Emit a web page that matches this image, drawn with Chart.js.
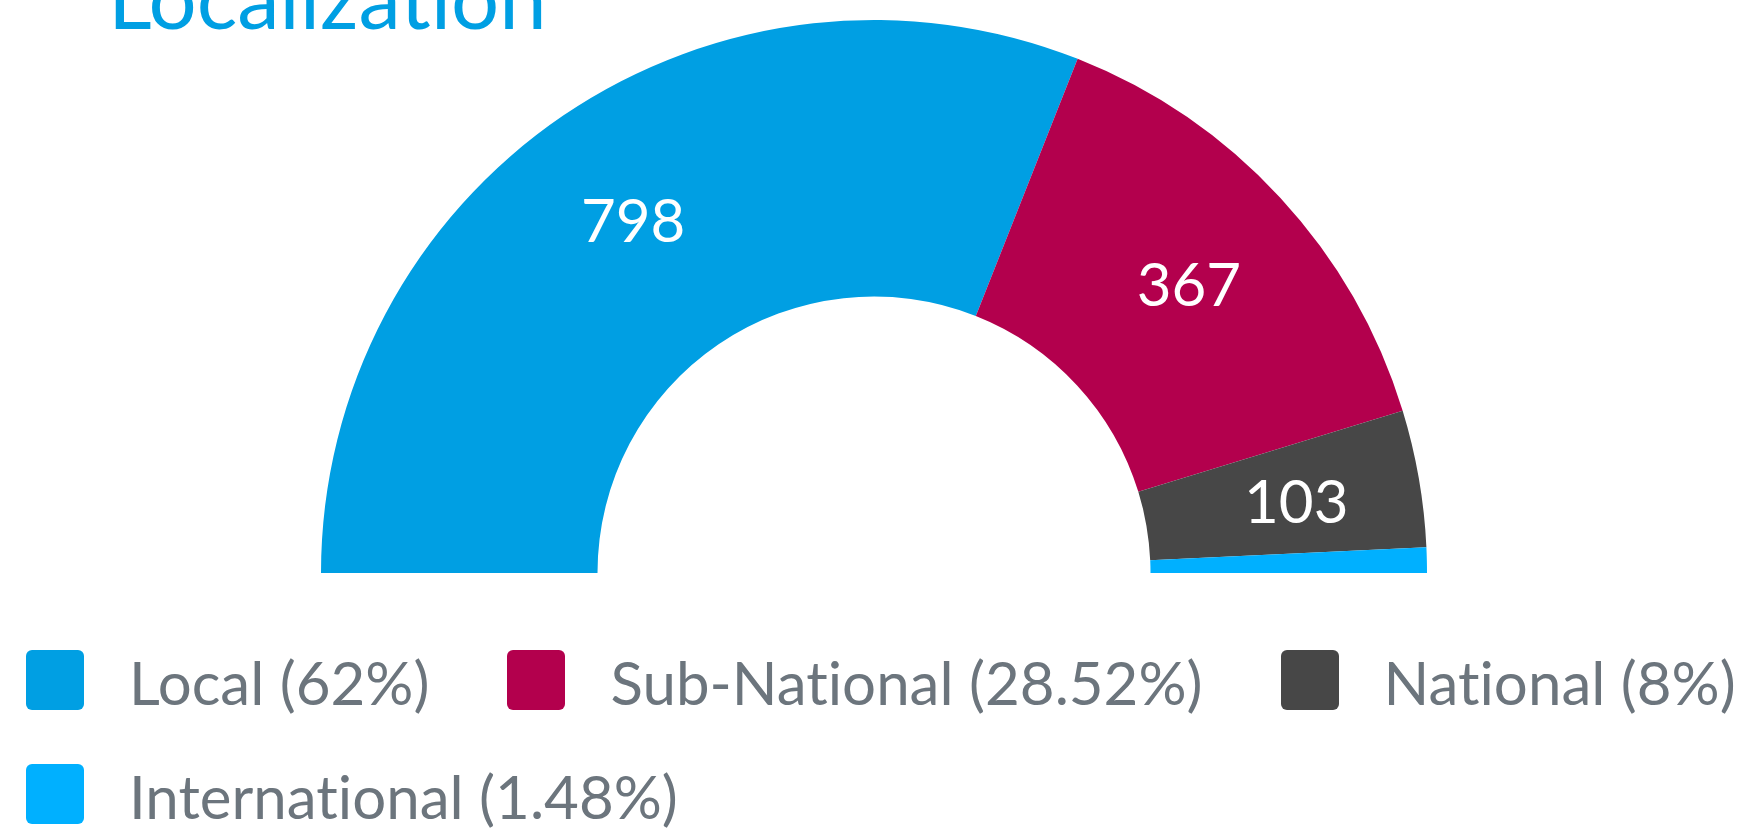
<!DOCTYPE html>
<html>
<head>
<meta charset="utf-8">
<script src="https://cdn.jsdelivr.net/npm/chart.js@4/dist/chart.umd.min.js"></script>
<style>
    html, body {
        margin: 0;
        padding: 0;
        background: #ffffff;
        overflow: hidden;
    }
    .page {
        position: relative;
        width: 1739px;
        height: 835px;
        overflow: hidden;
        font-family: Lato, "Open Sans", sans-serif;
    }
    .chart-title,
    .legend-text {
        font-variant-ligatures: none;
        font-feature-settings: "liga" 0, "clig" 0, "dlig" 0, "calt" 0;
        letter-spacing: 0.01px;
    }
    .chart-title {
        position: absolute;
        left: 108px;
        top: -46px;
        font-size: 85px;
        line-height: 1;
        color: #009fe3;
        white-space: nowrap;
    }
    .chart-box {
        position: absolute;
        left: 0;
        top: 0;
        width: 1739px;
        height: 835px;
    }
    .legend {
        position: absolute;
        left: 26px;
        top: 650px;
        width: 1760px;
        display: flex;
        flex-wrap: wrap;
        row-gap: 54px;
        column-gap: 78px;
    }
    .legend-item {
        display: flex;
        align-items: center;
        height: 60px;
        white-space: nowrap;
    }
    .legend-swatch {
        width: 58px;
        height: 60px;
        border-radius: 6px;
        margin-right: 45px;
    }
    .legend-text {
        font-size: 60px;
        line-height: 60px;
        color: #6c757d;
        position: relative;
        top: 2px;
    }
</style>
</head>
<body>
<div class="page">
    <div class="chart-title">Localization</div>
    <div class="chart-box"><canvas id="chart"></canvas></div>
    <div class="legend" id="legend"></div>
</div>
<script>
const categories = ["Local", "Sub-National", "National", "International"];
const counts = [798, 367, 103, 19];
const sliceColors = ["#009fe3", "#b3004d", "#474747", "#00b0ff"];

const total = counts.reduce((sum, value) => sum + value, 0);

function percentOf(value) {
    return Number(((value / total) * 100).toFixed(2));
}

// value labels drawn inside the arcs, skipped for tiny slices
const sliceLabels = {
    id: "sliceLabels",
    afterDatasetsDraw(chart) {
        const ctx = chart.ctx;
        const meta = chart.getDatasetMeta(0);
        ctx.save();
        ctx.fillStyle = "#ffffff";
        ctx.font = "60px Lato";
        ctx.textAlign = "center";
        ctx.textBaseline = "middle";
        meta.data.forEach((arc, index) => {
            const value = counts[index];
            if (percentOf(value) < 5) {
                return;
            }
            const props = arc.getProps(["x", "y", "startAngle", "endAngle", "innerRadius", "outerRadius"]);
            const angle = (props.startAngle + props.endAngle) / 2;
            const radius = props.innerRadius + (props.outerRadius - props.innerRadius) * 0.55;
            ctx.fillText(String(value), props.x + Math.cos(angle) * radius, props.y + Math.sin(angle) * radius + 4);
        });
        ctx.restore();
    },
};

new Chart(document.getElementById("chart"), {
    type: "doughnut",
    data: {
        labels: categories,
        datasets: [
            {
                data: counts,
                backgroundColor: sliceColors,
                borderWidth: 0,
            },
        ],
    },
    options: {
        responsive: true,
        maintainAspectRatio: false,
        animation: false,
        rotation: -90,
        circumference: 180,
        cutout: "50%",
        layout: {
            padding: { left: 321, right: 312, top: 20, bottom: 262 },
        },
        plugins: {
            legend: { display: false },
            tooltip: { enabled: false },
        },
    },
    plugins: [sliceLabels],
});

const legendEl = document.getElementById("legend");
categories.forEach((name, index) => {
    const item = document.createElement("div");
    item.className = "legend-item";
    const swatch = document.createElement("div");
    swatch.className = "legend-swatch";
    swatch.style.background = sliceColors[index];
    const text = document.createElement("span");
    text.className = "legend-text";
    text.textContent = `${name} (${percentOf(counts[index])}%)`;
    item.appendChild(swatch);
    item.appendChild(text);
    legendEl.appendChild(item);
});
</script>
</body>
</html>
